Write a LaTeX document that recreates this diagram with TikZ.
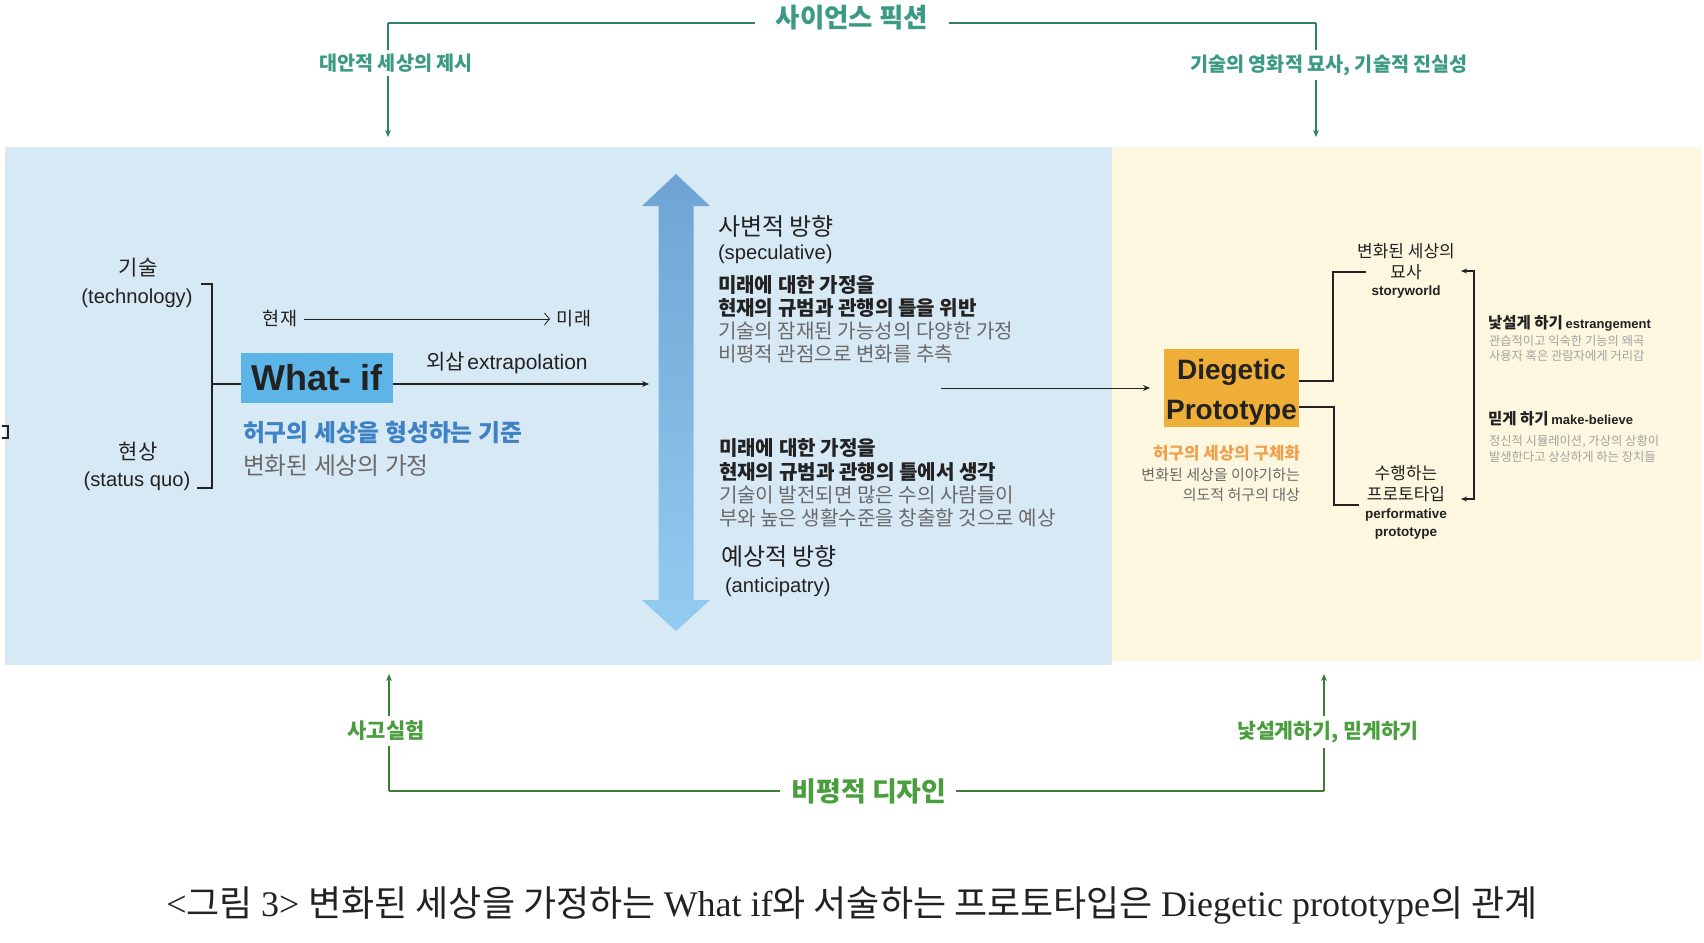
\documentclass[tikz,border=0pt]{standalone}
\usepackage{fontspec}
\setmainfont{Liberation Sans}
\newfontfamily\kr{Noto Sans CJK KR}
\newfontfamily\lserif{Liberation Serif}
\usetikzlibrary{arrows.meta}
\newcommand\fsz[2]{\fontsize{#1}{#2}\selectfont}
\definecolor{bluebg}{HTML}{D8E9F6}
\definecolor{yellowbg}{HTML}{FDF7E0}
\definecolor{tealc}{HTML}{3A9A84}
\definecolor{teall}{HTML}{2E7F6C}
\definecolor{greenc}{HTML}{4A9E3E}
\definecolor{greenl}{HTML}{3B7E35}
\definecolor{darktext}{HTML}{222222}
\definecolor{graytext}{HTML}{6A6A6A}
\definecolor{lightgray}{HTML}{A2A2A2}
\definecolor{whatifblue}{HTML}{5CB5E6}
\definecolor{dporange}{HTML}{EFAE37}
\definecolor{bluetext}{HTML}{3C82C4}
\definecolor{orangetext}{HTML}{F0A04C}
\definecolor{arrowtop}{HTML}{6DA4D4}
\definecolor{arrowbot}{HTML}{94CCF0}
\begin{document}
\begin{tikzpicture}[x=1pt,y=-1pt,
  every node/.style={inner sep=0pt,outer sep=0pt,text=darktext},
  tealtitle/.style={text=tealc,font=\kr\bfseries\fsz{26.5}{30}},
  teallabel/.style={text=tealc,font=\kr\bfseries\fsz{19.6}{23}},
  greentitle/.style={text=greenc,font=\kr\bfseries\fsz{27}{31}},
  greenlabel/.style={text=greenc,font=\kr\bfseries\fsz{21}{25}},
  tealline/.style={draw=teall,line width=2pt},
  tealarrow/.style={draw=teall,line width=1.4pt,-{Stealth[length=7pt,width=6pt]}},
  greenline/.style={draw=greenl,line width=2pt},
  greenarrow/.style={draw=greenl,line width=1.4pt,-{Stealth[length=7pt,width=6pt]}},
  kbig/.style={font=\kr\fsz{21}{25}},
  lparen/.style={font=\fsz{20.2}{24}},
  kbold/.style={font=\kr\bfseries\fsz{20.1}{24}},
  kgray/.style={font=\kr\fsz{20.1}{24},text=graytext},
  kmid/.style={font=\kr\fsz{24}{28}},
  ksmall/.style={font=\kr\fsz{17}{20}},
  esmall/.style={font=\bfseries\fsz{13.5}{16}},
  tinygray/.style={font=\kr\fsz{12.3}{15},text=lightgray},
  connector/.style={draw=darktext,line width=1pt}
]
\useasboundingbox (0,0) rectangle (1704,942);
\fill[white] (0,0) rectangle (1704,942);
\fill[bluebg] (5,147) rectangle (1112,665);
\fill[yellowbg] (1112,147) rectangle (1701,661);

% ---------- top: science fiction ----------
\node[tealtitle] (sf) at (852,18) {사이언스 픽션};
\coordinate (tl) at (388,23);
\coordinate (tr) at (1316,23);
\coordinate (tlgap) at (755,23);
\coordinate (trgap) at (949,23);
\node[teallabel] (la) at (396,63) {대안적 세상의 제시};
\node[teallabel] (ra) at (1329,65) {기술의 영화적 묘사, 기술적 진실성};
\coordinate (laend) at (388,137);
\coordinate (raend) at (1316,137);
\draw[tealline] (tlgap) -- (tl);
\draw[tealline] (trgap) -- (tr);
\draw[draw=teall,line width=1.4pt] (tl) -- ([yshift=4pt]la.north -| tl);
\draw[draw=teall,line width=1.4pt] (tr) -- ([yshift=4pt]ra.north -| tr);
\draw[tealarrow] ([yshift=-4pt]la.south -| tl) -- (laend);
\draw[tealarrow] ([yshift=-4pt]ra.south -| tr) -- (raend);

% ---------- left artifact bracket ----------
\draw[darktext,line width=1.3pt] (2,426) -- (8,426) -- (8,438) -- (2,438);

% ---------- left: technology / status quo ----------
\node[kbig] (tech1) at (138,268) {기술};
\node[lparen] (tech2) at (137,298) {(technology)};
\node[kbig] (sq1) at (138,452) {현상};
\node[lparen] (sq2) at (137,481) {(status quo)};
\coordinate (brt) at (201,284);
\coordinate (brtc) at (212,284);
\coordinate (brbc) at (212,488);
\coordinate (brb) at (197,488);
\coordinate (brm) at (212,384);
\draw[connector,line width=1.2pt] (brt) -- (brtc) -- (brbc) -- (brb);

\node[fill=whatifblue,minimum width=152pt,minimum height=50pt,
      font=\bfseries\fsz{36}{40}] (whatif) at (317,378) {What- if};
\draw[connector,line width=1.2pt] (brm) -- (whatif.west |- brm);

\node[font=\kr\fsz{18.5}{22}] (now) at (280,319) {현재};
\node[font=\kr\fsz{18.5}{22}] (future) at (574,319) {미래};
\draw[draw=darktext,line width=0.8pt,-{Straight Barb[length=5pt,width=12pt]}] ([xshift=7pt]now.east) -- ([xshift=-7pt]future.west);

\node[anchor=west] (extra) at (426,363) {{\kr\fsz{21}{25}외삽} {\fsz{21}{25}extrapolation}};
\coordinate (extraend) at (649,384);
\draw[connector,line width=1.2pt,-{Stealth[length=7pt,width=6pt]}] (whatif.east |- brm) -- (extraend);

\node[anchor=west,font=\kr\bfseries\fsz{23.8}{28},text=bluetext] (crit) at (243,433) {허구의 세상을 형성하는 기준};
\node[anchor=west,font=\kr\fsz{23.8}{28},text=graytext] (assume) at (243,466) {변화된 세상의 가정};

% ---------- big vertical double arrow ----------
\shade[top color=arrowtop,bottom color=arrowbot]
  (676,174) -- (710,206) -- (693.5,206) -- (693.5,600) -- (710,600) -- (676,631)
  -- (642,600) -- (658.5,600) -- (658.5,206) -- (642,206) -- cycle;

% ---------- speculative / anticipatory texts ----------
\node[anchor=west,kmid] (spec1) at (718,226) {사변적 방향};
\node[anchor=west,lparen] (spec2) at (718,254) {(speculative)};
\node[anchor=west,kbold] (s1) at (718,285) {미래에 대한 가정을};
\node[anchor=west,kbold] (s2) at (718,308) {현재의 규범과 관행의 틀을 위반};
\node[anchor=west,kgray] (s3) at (718,331) {기술의 잠재된 가능성의 다양한 가정};
\node[anchor=west,kgray] (s4) at (718,354) {비평적 관점으로 변화를 추측};

\node[anchor=west,kbold] (a1) at (719,448) {미래에 대한 가정을};
\node[anchor=west,kbold] (a2) at (719,472) {현재의 규범과 관행의 틀에서 생각};
\node[anchor=west,kgray] (a3) at (719,495) {기술이 발전되면 많은 수의 사람들이};
\node[anchor=west,kgray] (a4) at (719,518) {부와 높은 생활수준을 창출할 것으로 예상};
\node[anchor=west,kmid] (ant1) at (721,556) {예상적 방향};
\node[anchor=west,lparen] (ant2) at (725,587) {(anticipatry)};

% ---------- diegetic prototype ----------
\node[fill=dporange,minimum width=135pt,minimum height=78pt,
      label={[yshift=-4pt,align=center,font=\bfseries\fsz{28}{40},text=darktext]center:Diegetic\\Prototype}] (dp) at (1231.5,388) {};
\coordinate (dpin) at (941,388);
\draw[connector,line width=1pt,-{Stealth[length=7pt,width=6pt]},shorten >=14pt] (dpin) -- (dp.west);

\node[anchor=east,font=\kr\bfseries\fsz{16.8}{20},text=orangetext] (dpt1) at (1300,453) {허구의 세상의 구체화};
\node[anchor=east,font=\kr\fsz{15}{19},text=graytext] (dpt2) at (1300,475) {변화된 세상을 이야기하는};
\node[anchor=east,font=\kr\fsz{15}{19},text=graytext] (dpt3) at (1300,495) {의도적 허구의 대상};

% storyworld / performative prototype
\node[ksmall] (sw1) at (1406,251) {변화된 세상의};
\node[ksmall] (sw2) at (1406,272) {묘사};
\node[esmall] (sw3) at (1406,292) {storyworld};
\node[ksmall] (pp1) at (1406,473) {수행하는};
\node[ksmall] (pp2) at (1406,494) {프로토타입};
\node[esmall] (pp3) at (1406,515) {performative};
\node[esmall] (pp4) at (1406,533) {prototype};

\coordinate (up1) at (1333,381);
\coordinate (up2) at (1333,272);
\coordinate (up3) at (1366,272);
\coordinate (lo1) at (1334,407);
\coordinate (lo2) at (1334,505);
\coordinate (lo3) at (1359,505);
\draw[connector,line width=1.3pt] (dp.east |- up1) -- (up1) -- (up2) -- (up3);
\draw[connector,line width=1.3pt] (dp.east |- lo1) -- (lo1) -- (lo2) -- (lo3);

\coordinate (rb1) at (1461,271);
\coordinate (rb2) at (1474,271);
\coordinate (rb3) at (1474,499);
\coordinate (rb4) at (1461,499);
\draw[connector,line width=1.2pt,{Stealth[length=6pt,width=5pt]}-{Stealth[length=6pt,width=5pt]}] (rb1) -- (rb2) -- (rb3) -- (rb4);

\node[anchor=west] (est) at (1488,323) {{\kr\bfseries\fsz{15.5}{18}낯설게 하기} {\bfseries\fsz{13}{15}estrangement}};
\node[anchor=west,tinygray] (est1) at (1489,341) {관습적이고 익숙한 기능의 왜곡};
\node[anchor=west,tinygray] (est2) at (1489,356) {사용자 혹은 관람자에게 거리감};
\node[anchor=west] (mb) at (1488,419) {{\kr\bfseries\fsz{15.5}{18}믿게 하기} {\bfseries\fsz{13}{15}make-believe}};
\node[anchor=west,tinygray] (mb1) at (1489,442) {정신적 시뮬레이션, 가상의 상황이};
\node[anchor=west,tinygray] (mb2) at (1489,457) {발생한다고 상상하게 하는 장치들};

% ---------- bottom: critical design ----------
\node[greentitle] (cd) at (869,791) {비평적 디자인};
\node[greenlabel] (lb) at (386,731) {사고실험};
\node[greenlabel,font=\kr\bfseries\fsz{20.5}{25}] (rbl) at (1328,732) {낯설게하기, 믿게하기};
\coordinate (bl) at (389,791);
\coordinate (br) at (1324,791);
\coordinate (blgap) at (780,791);
\coordinate (brgap) at (956,791);
\coordinate (blend) at (389,674);
\coordinate (brend) at (1324,674);
\draw[greenline] (blgap) -- (bl);
\draw[greenline] (brgap) -- (br);
\draw[draw=greenl,line width=1.4pt] (bl) -- ([yshift=-5pt]lb.south -| bl);
\draw[draw=greenl,line width=1.4pt] (br) -- ([yshift=-5pt]rbl.south -| br);
\draw[greenarrow] ([yshift=5pt]lb.north -| bl) -- (blend);
\draw[greenarrow] ([yshift=5pt]rbl.north -| br) -- (brend);

% ---------- caption ----------
\node[font=\fsz{36}{40}] (cap) at (852,905) {{\lserif <}{\kr 그림 }{\lserif 3> }{\kr 변화된 세상을 가정하는 }{\lserif What if}{\kr 와 서술하는 프로토타입은 }{\lserif Diegetic prototype}{\kr 의 관계}};
\end{tikzpicture}
\end{document}
